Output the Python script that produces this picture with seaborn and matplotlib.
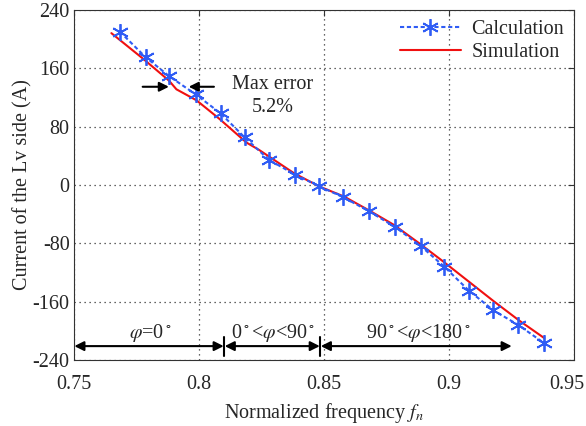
import matplotlib
matplotlib.use('Agg')
import matplotlib.pyplot as plt
import matplotlib.transforms as mtransforms
import seaborn as sns
import pandas as pd

# calculation points (asterisks)
calc_f = [0.7684, 0.7787, 0.7881, 0.7987, 0.8087, 0.8183, 0.8281, 0.8385, 0.8481,
          0.8577, 0.8679, 0.8785, 0.8887, 0.898, 0.9079, 0.9177, 0.9276, 0.938]
calc_i = [210, 175, 149, 124, 98, 65, 34, 14, -2,
          -17, -36, -58, -84, -112, -145, -172, -192, -217]

# simulation curve
sim_f = [0.765, 0.778, 0.788, 0.791, 0.799, 0.808, 0.819, 0.824, 0.838, 0.848,
         0.858, 0.868, 0.878, 0.888, 0.898, 0.908, 0.918, 0.928, 0.938]
sim_i = [208, 172, 143, 131, 116, 91, 58, 48, 16, -2,
         -16, -35, -55, -80, -106, -133, -160, -186, -210]

xticks = [0.75, 0.8, 0.85, 0.9, 0.95]
yticks = [-240, -160, -80, 0, 80, 160, 240]

calc = pd.DataFrame({'f': calc_f, 'i': calc_i})
sim = pd.DataFrame({'f': sim_f, 'i': sim_i})

sns.set_style('white')
plt.rcParams['font.family'] = ['Liberation Serif', 'DejaVu Serif']
plt.rcParams['mathtext.fontset'] = 'stix'
plt.rcParams['axes.unicode_minus'] = False

fs = 14.5
fig = plt.figure(figsize=(5.86, 4.26), dpi=100)
ax = fig.add_axes([0.126, 0.155, 0.854, 0.822])

sns.lineplot(data=calc, x='f', y='i', ax=ax, color='#2f5cf5', linestyle=(0, (2, 1.3)),
             linewidth=1.5, marker=(6, 2, 0), markersize=12, markeredgewidth=1.3,
             markeredgecolor='#2f5cf5', label='Calculation', zorder=3)
sns.lineplot(data=sim, x='f', y='i', ax=ax, color='#f01010', linewidth=1.5,
             label='Simulation', zorder=2)

ax.set_xlim(0.75, 0.95)
ax.set_ylim(-240, 240)
ax.set_xticks(xticks)
ax.set_xticklabels([str(t) for t in xticks])
ax.set_yticks(yticks)
ax.grid(True, linestyle=(0, (1, 3)), color='#333333', linewidth=0.9)
ax.tick_params(direction='in', labelsize=fs, length=4, color='#333333',
               top=True, right=True, pad=3)
ax.tick_params(axis='x', pad=11)
for s in ax.spines.values():
    s.set_color('#333333')
    s.set_linewidth(0.8)
    s.set_visible(True)

# keep the last x label inside the figure
last = ax.get_xticklabels()[-1]
last.set_transform(last.get_transform() +
                   mtransforms.ScaledTranslation(-0.07, 0, fig.dpi_scale_trans))

ax.set_xlabel('Normalized frequency $f_n$', fontsize=fs, labelpad=5)
ax.set_ylabel('Current of the Lv side (A)', fontsize=fs, labelpad=0)

leg = ax.legend(loc='upper right', frameon=False, fontsize=fs, handlelength=3.0,
                handletextpad=0.55, borderaxespad=0.1, labelspacing=0.2)

# max error annotation
arr = dict(arrowstyle='-|>', color='black', lw=1.5, mutation_scale=14)
ax.annotate('', xy=(0.7891, 134.5), xytext=(0.7764, 134.5), arrowprops=arr)
ax.annotate('', xy=(0.7948, 134.5), xytext=(0.8071, 134.5), arrowprops=arr)
ax.text(0.8295, 122, 'Max error\n5.2%', ha='center', va='center', fontsize=fs,
        linespacing=1.3)

# phase region arrows
arr2 = dict(arrowstyle='<|-|>', color='black', lw=1.5, mutation_scale=14,
            shrinkA=0, shrinkB=0)
ya = -221
ax.annotate('', xy=(0.7502, ya), xytext=(0.8099, ya), arrowprops=arr2)
ax.annotate('', xy=(0.8103, ya), xytext=(0.8483, ya), arrowprops=arr2)
ax.annotate('', xy=(0.8487, ya), xytext=(0.925, ya), arrowprops=arr2)
for xb in [0.8101, 0.8485]:
    ax.plot([xb, xb], [ya - 13, ya + 13], color='black', lw=1.5)
ax.text(0.7804, -203, r'$\varphi$=0$^\circ$', ha='center', va='center', fontsize=fs)
ax.text(0.8296, -203, r'0$^\circ$<$\varphi$<90$^\circ$', ha='center', va='center', fontsize=fs)
ax.text(0.8876, -203, r'90$^\circ$<$\varphi$<180$^\circ$', ha='center', va='center', fontsize=fs)

fig.savefig('out.png', dpi=100)
